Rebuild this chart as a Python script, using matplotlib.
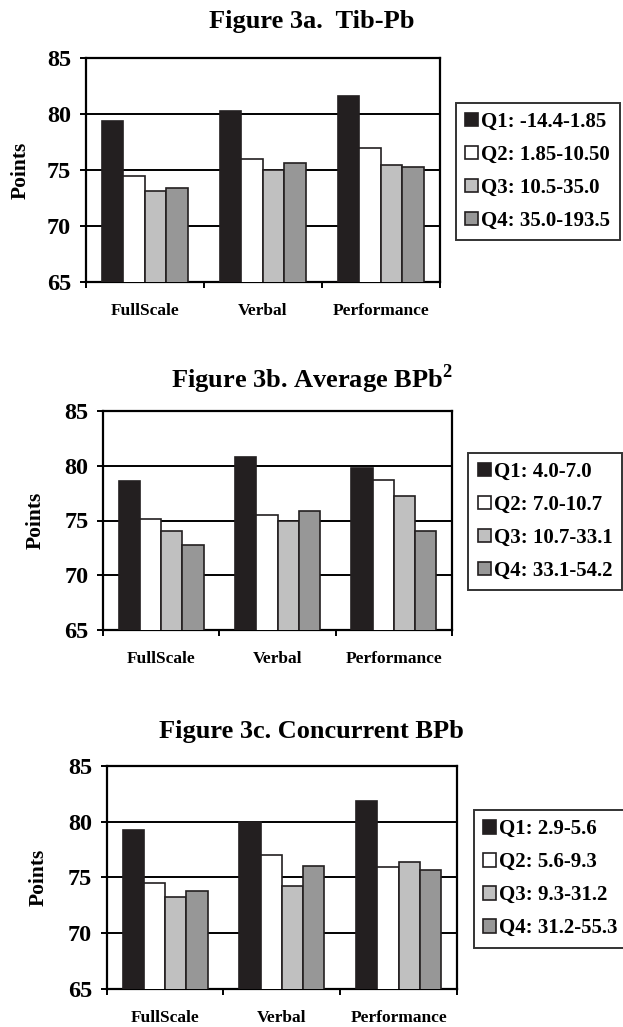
import numpy as np
import matplotlib
matplotlib.use("Agg")
import matplotlib.pyplot as plt

plt.rcParams['font.family'] = ['Liberation Serif', 'DejaVu Serif']
plt.rcParams['font.weight'] = 'bold'
plt.rcParams['mathtext.fontset'] = 'custom'
plt.rcParams['mathtext.rm'] = 'Liberation Serif:bold'
plt.rcParams['mathtext.bf'] = 'Liberation Serif:bold'

# ────────────────────────────────────────────────
# Data
# ────────────────────────────────────────────────
categories = ["FullScale", "Verbal", "Performance"]

tib_q1 = [79.4, 80.3, 81.6]
tib_q2 = [74.5, 76.0, 77.0]
tib_q3 = [73.1, 75.0, 75.5]
tib_q4 = [73.4, 75.6, 75.3]
tib_labels = ["Q1: -14.4-1.85", "Q2: 1.85-10.50", "Q3: 10.5-35.0", "Q4: 35.0-193.5"]

avg_q1 = [78.6, 80.8, 79.8]
avg_q2 = [75.1, 75.5, 78.7]
avg_q3 = [74.0, 75.0, 77.2]
avg_q4 = [72.8, 75.9, 74.0]
avg_labels = ["Q1: 4.0-7.0", "Q2: 7.0-10.7", "Q3: 10.7-33.1", "Q4: 33.1-54.2"]

con_q1 = [79.2, 80.0, 81.8]
con_q2 = [74.5, 77.0, 75.9]
con_q3 = [73.2, 74.2, 76.4]
con_q4 = [73.8, 76.0, 75.7]
con_labels = ["Q1: 2.9-5.6", "Q2: 5.6-9.3", "Q3: 9.3-31.2", "Q4: 31.2-55.3"]

bar_colors = ["#231f20", "#ffffff", "#c0c0c0", "#979797"]
edge = "#231f20"

W, H = 623, 1027
fig = plt.figure(figsize=(W / 100, H / 100), dpi=100)


def px_axes(x0, y0, x1, y1):
    return fig.add_axes([x0 / W, 1 - y1 / H, (x1 - x0) / W, (y1 - y0) / H])


def draw_panel(ax, series, labels, leg_xy, ylabel_x):
    x = np.arange(len(categories)) + 0.5
    bw = 0.182
    for i, vals in enumerate(series):
        ax.bar(x + (i - 1.5) * bw, vals, width=bw, color=bar_colors[i],
               edgecolor=edge, linewidth=1.2, label=labels[i], zorder=3)
    ax.set_xlim(0, len(categories))
    ax.set_ylim(65, 85)
    ax.set_yticks([65, 70, 75, 80, 85])
    for y in [70, 75, 80]:
        ax.axhline(y, color="black", linewidth=1.4, zorder=1)
    ax.set_xticks(np.arange(len(categories) + 1))
    ax.set_xticklabels([])
    ax.set_xticks(x, minor=True)
    ax.set_xticklabels(categories, minor=True, fontsize=12.5, fontweight="bold")
    ax.tick_params(axis="x", which="major", direction="out", length=4.5, width=1.4)
    ax.tick_params(axis="x", which="minor", length=0, pad=15)
    ax.tick_params(axis="y", direction="out", length=4.5, width=1.4, pad=6,
                   labelsize=17.5)
    for s in ax.spines.values():
        s.set_linewidth(1.6)
        s.set_color("black")
    ax.set_ylabel("Points", fontsize=15.5, fontweight="bold")
    ax.yaxis.set_label_coords(ylabel_x, 0.5)
    leg = ax.legend(loc="upper left", bbox_to_anchor=(leg_xy[0] / W, 1 - leg_xy[1] / H),
                    bbox_transform=fig.transFigure, fontsize=15, frameon=True,
                    fancybox=False, handlelength=0.62, handleheight=0.62,
                    handletextpad=0.15, labelspacing=0.62, borderpad=0.45,
                    borderaxespad=0, prop={"weight": "bold", "size": 15})
    leg.get_frame().set_edgecolor("black")
    leg.get_frame().set_linewidth(1.4)


ax_a = px_axes(85.7, 58, 440, 282.3)
draw_panel(ax_a, [tib_q1, tib_q2, tib_q3, tib_q4], tib_labels, (456, 102.7), -0.155)
fig.text(0.5, 1 - 21.7 / H, "Figure 3a.  Tib-Pb", ha="center", va="center",
         fontsize=19, fontweight="bold")

ax_b = px_axes(103, 411, 452, 630)
draw_panel(ax_b, [avg_q1, avg_q2, avg_q3, avg_q4], avg_labels, (468.3, 452.7), -0.163)
fig.text(0.5, 1 - 379 / H, r"Figure 3b. Average BPb$^{\mathregular{2}}$", ha="center",
         va="center", fontsize=19, fontweight="bold")

ax_c = px_axes(106.7, 765.7, 457, 989)
draw_panel(ax_c, [con_q1, con_q2, con_q3, con_q4], con_labels, (474, 810), -0.166)
fig.text(0.5, 1 - 731.7 / H, "Figure 3c. Concurrent BPb", ha="center", va="center",
         fontsize=19, fontweight="bold")

fig.savefig("out.png", dpi=100)
